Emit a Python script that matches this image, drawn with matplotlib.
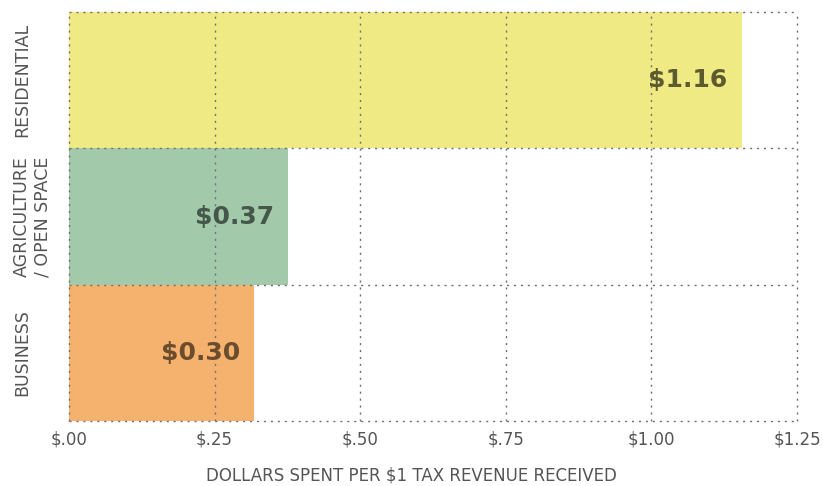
import matplotlib
matplotlib.use("Agg")
import matplotlib.pyplot as plt

# Data (bottom to top)
categories = ["BUSINESS", "AGRICULTURE\n/ OPEN SPACE", "RESIDENTIAL"]
bar_values = [0.318, 0.376, 1.155]
value_labels = ["$0.30", "$0.37", "$1.16"]
bar_colors = ["#F5B26F", "#A3C9AB", "#F0EA85"]
label_colors = ["#6B4C2C", "#44574A", "#5C5A2E"]
x_ticks = [0.0, 0.25, 0.50, 0.75, 1.00, 1.25]
x_tick_labels = ["$.00", "$.25", "$.50", "$.75", "$1.00", "$1.25"]
x_title = "DOLLARS SPENT PER $1 TAX REVENUE RECEIVED"

plt.rcParams["font.family"] = ["DejaVu Sans"]

W, H = 823, 486
fig = plt.figure(figsize=(W / 100, H / 100), dpi=100)
L, R, T, B = 69, 797, 12, 421
ax = fig.add_axes([L / W, 1 - B / H, (R - L) / W, (B - T) / H])

ypos = list(range(len(categories)))
ax.barh(ypos, bar_values, height=1.0, color=bar_colors, zorder=1, linewidth=0)

grid_kw = dict(color="#707070", linewidth=1.0, linestyle=(0, (1.5, 3.5)),
               zorder=2, clip_on=False)
for xt in x_ticks:
    ax.axvline(xt, **grid_kw)
for yb in [y - 0.5 for y in ypos] + [ypos[-1] + 0.5]:
    ax.axhline(yb, **grid_kw)

for y, v, lab, c in zip(ypos, bar_values, value_labels, label_colors):
    ax.text(v - 0.024, y, lab, ha="right", va="center", fontsize=18,
            fontweight="bold", color=c, zorder=3)

ax.set_xlim(0, 1.25)
ax.set_ylim(-0.5, len(categories) - 0.5)
ax.set_xticks(x_ticks)
ax.set_xticklabels(x_tick_labels, fontsize=12, color="#555555")
ax.set_yticks(ypos)
ax.set_yticklabels([])
ax.tick_params(axis="y", length=0)
ax.tick_params(axis="x", length=0, pad=7)
for s in ax.spines.values():
    s.set_visible(False)

# category labels, first line aligned across all categories
lab_x = (13 - L) / (R - L)
for y, cat in zip(ypos, categories):
    ax.text(lab_x, y, cat, transform=ax.get_yaxis_transform(), rotation=90,
            ha="left", va="center", multialignment="center", fontsize=12.5,
            color="#555555", linespacing=1.15, clip_on=False)

fig.text(0.5, 1 - 475 / H, x_title, ha="center", va="center", fontsize=12,
         color="#555555")

fig.savefig("out.png", dpi=100)
